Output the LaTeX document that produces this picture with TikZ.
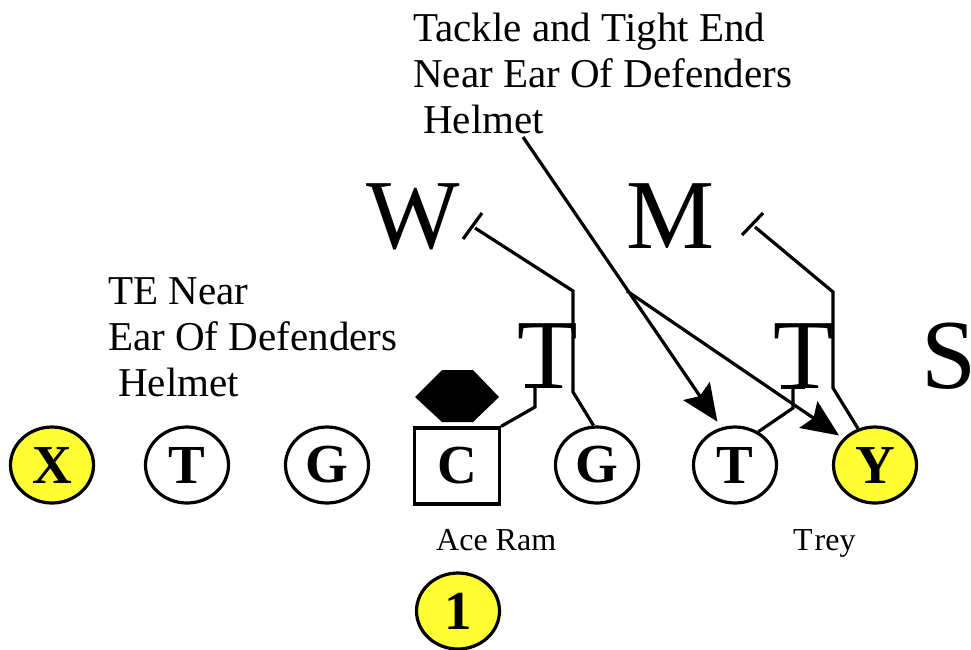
\documentclass[tikz,border=0pt]{standalone}
\usepackage{fontspec}
\setmainfont{Liberation Serif}
\usetikzlibrary{shapes.geometric,arrows.meta}
\definecolor{yel}{RGB}{255,255,51}
\tikzset{
  player/.style={draw,line width=3.2pt,ellipse,minimum width=83pt,minimum height=76pt,inner sep=0pt,font=\fontsize{55}{55}\selectfont\bfseries},
  defn/.style={inner sep=0pt,font=\fontsize{99}{99}\selectfont},
  note/.style={inner sep=0pt,align=left,font=\fontsize{41}{46}\selectfont},
  small/.style={inner sep=0pt,font=\fontsize{32}{32}\selectfont},
  blk/.style={line width=3.2pt,line join=miter},
  arr/.style={line width=3.2pt,-{Stealth[length=37pt,width=32pt,inset=6pt]}},
}
\begin{document}
\begin{tikzpicture}[x=1pt,y=-1pt]
\useasboundingbox (0,0) rectangle (971,649);
% offense
\node[player,fill=yel] (X) at (52,465) {X};
\node[player] (LT) at (187,465) {T};
\node[player] (LG) at (327,465) {G};
\node[draw,line width=3.2pt,minimum width=85pt,minimum height=76pt,inner sep=0pt,font=\fontsize{55}{55}\selectfont\bfseries] (C) at (457,466) {C};
\node[player] (RG) at (597,465) {G};
\node[player] (RT) at (735,465) {T};
\node[player,fill=yel] (Y) at (875,465) {Y};
\node[player,fill=yel] (QB) at (458,611) {1};
% nose hexagon
\fill (415,397) -- (442,370) -- (473,370) -- (499,397) -- (473,422) -- (442,422) -- cycle;
% defenders
\node[defn,anchor=base] (W) at (413,248) {W};
\node[defn,anchor=base] (M) at (671,248) {M};
\node[defn,anchor=base] (DT1) at (548,388) {T};
\node[defn,anchor=base] (DT2) at (804,388) {T};
\node[defn,anchor=base west] (S) at (921,388) {S};
% notes
\node[note,anchor=base west] (n1) at (413,133) {Tackle and Tight End\\Near Ear Of Defenders\\\hspace*{10pt}Helmet};
\node[note,anchor=base west] (n2) at (108,396) {TE Near\\Ear Of Defenders\\\hspace*{10pt}Helmet};
\node[small,anchor=base west] (ace) at (436,550) {Ace Ram};
\node[small,anchor=base west] (trey) at (793,550) {T\hspace{2pt}rey};
% blocks
\coordinate (c1) at (535,407);
\coordinate (c1e) at (535,386);
\draw[blk] (C.north east) -- (c1) -- (c1e);
\draw[blk] (525,386) -- (545,386);
\coordinate (c2) at (573,392);
\coordinate (c2b) at (573,291);
\coordinate (c2e) at (475,228);
\draw[blk] (RG.95) -- (c2) -- (c2b) -- (c2e);
\draw[blk] (463,239) -- (482,213);
\coordinate (c3) at (793,408);
\coordinate (c3e) at (793,387);
\draw[blk] (RT.55) -- (c3) -- (c3e);
\draw[blk] (781,387) -- (805,387);
\coordinate (c4) at (833,388);
\coordinate (c4b) at (833,292);
\coordinate (c4e) at (755,227);
\draw[blk] (Y.115) -- (c4) -- (c4b) -- (c4e);
\draw[blk] (742,235) -- (763,213);
% arrows from note
\coordinate (h1) at (523,137);
\coordinate (br) at (627,291);
\draw[arr,shorten >=7pt] (h1) -- (RT.110);
\draw[arr,shorten >=5pt] (br) -- (Y.140);
\end{tikzpicture}
\end{document}
